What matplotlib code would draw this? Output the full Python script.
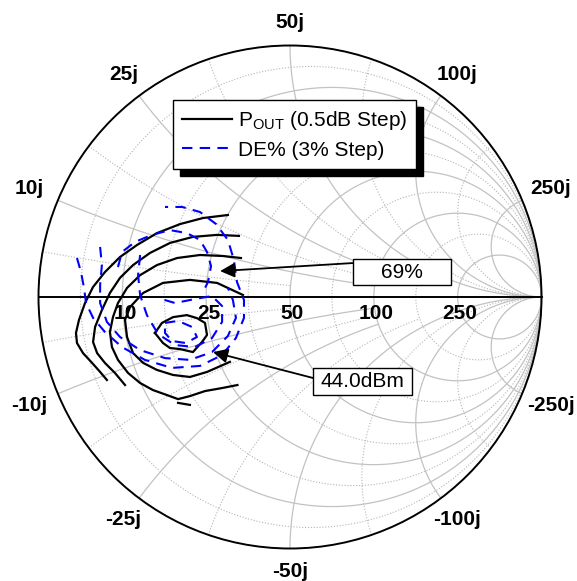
import numpy as np
import matplotlib.pyplot as plt
from matplotlib.patches import Circle, Rectangle

# Smith chart grid values (normalised to Z0 = 50 ohm)
MAIN_VALUES = [0.2, 0.5, 1.0, 2.0, 5.0]
MAIN_X_STOP = [2.0, 2.0, np.inf, np.inf, np.inf]      # resistance where x arcs stop
SUB_VALUES = [1 / 11, 1 / 3, 1 / 1.4, 1.4, 3.0]
SUB_X_STOP = [1.0, 2.0, 3.0, np.inf, np.inf]
R_LABELS = ['10', '25', '50', '100', '250']
X_LABELS = ['10j', '25j', '50j', '100j', '250j']

# Pout contours (reflection coefficient, real / imag), 0.5 dB step
pout_1_re = [-0.247, -0.346, -0.437, -0.529, -0.608, -0.676, -0.736, -0.783, -0.815,
             -0.839, -0.851, -0.847, -0.823, -0.787, -0.755, -0.728]
pout_1_im = [0.326, 0.314, 0.290, 0.254, 0.207, 0.159, 0.099, 0.040, -0.024,
             -0.091, -0.143, -0.183, -0.223, -0.262, -0.298, -0.330]
pout_2_re = [-0.203, -0.290, -0.386, -0.477, -0.557, -0.624, -0.676, -0.716, -0.748,
             -0.775, -0.783, -0.767, -0.736, -0.696, -0.656]
pout_2_im = [0.243, 0.247, 0.239, 0.215, 0.175, 0.127, 0.076, 0.016, -0.052,
             -0.119, -0.179, -0.223, -0.262, -0.302, -0.350]
pout_3_re = [-0.195, -0.266, -0.358, -0.449, -0.529, -0.596, -0.648, -0.684, -0.704,
             -0.716, -0.708, -0.684, -0.644, -0.596, -0.545, -0.489, -0.445, -0.398,
             -0.338, -0.270, -0.209]
pout_3_im = [0.155, 0.163, 0.167, 0.155, 0.127, 0.087, 0.036, -0.024, -0.080,
             -0.139, -0.199, -0.250, -0.302, -0.342, -0.370, -0.390, -0.406, -0.394,
             -0.374, -0.362, -0.350]
pout_3b_re = [-0.445, -0.398]
pout_3b_im = [-0.421, -0.429]
pout_4_re = [-0.187, -0.290, -0.398, -0.505, -0.584, -0.636, -0.656, -0.648, -0.624,
             -0.584, -0.529, -0.465, -0.398, -0.330, -0.239]
pout_4_im = [0.008, 0.056, 0.068, 0.056, 0.016, -0.040, -0.091, -0.159, -0.223,
             -0.262, -0.290, -0.310, -0.318, -0.298, -0.258]
pout_5_re = [-0.537, -0.509, -0.465, -0.410, -0.370, -0.338, -0.330, -0.350, -0.386,
             -0.437, -0.477, -0.505, -0.537]
pout_5_im = [-0.143, -0.103, -0.080, -0.072, -0.084, -0.103, -0.151, -0.179, -0.219,
             -0.207, -0.203, -0.183, -0.143]

# Drain efficiency contours, 3 % step
de_1_re = [-0.847, -0.831, -0.819, -0.811, -0.783, -0.736, -0.668, -0.577, -0.469,
           -0.358, -0.270, -0.215, -0.183, -0.183, -0.211, -0.223, -0.247, -0.294,
           -0.358, -0.429, -0.497]
de_1_im = [0.155, 0.099, 0.036, -0.024, -0.083, -0.139, -0.199, -0.250, -0.282,
           -0.274, -0.231, -0.163, -0.083, -0.012, 0.060, 0.147, 0.227, 0.290,
           0.338, 0.358, 0.358]
de_2_re = [-0.755, -0.748, -0.755, -0.755, -0.728, -0.676, -0.596, -0.497, -0.398,
           -0.310, -0.247, -0.215, -0.227, -0.247]
de_2_im = [0.199, 0.127, 0.048, -0.024, -0.099, -0.159, -0.211, -0.243, -0.250,
           -0.219, -0.155, -0.083, -0.012, 0.036]
de_3_re = [-0.684, -0.668, -0.616, -0.549, -0.477, -0.410, -0.358, -0.330, -0.314,
           -0.326, -0.346]
de_3_im = [0.119, 0.179, 0.219, 0.247, 0.266, 0.254, 0.227, 0.179, 0.123,
           0.060, 0.020]
de_4_re = [-0.596, -0.604, -0.596, -0.569, -0.525, -0.457, -0.378, -0.310, -0.270,
           -0.270, -0.310, -0.378, -0.457, -0.525]
de_4_im = [0.167, 0.087, 0.008, -0.072, -0.147, -0.191, -0.199, -0.163, -0.099,
           -0.036, 0.004, -0.008, -0.024, -0.004]
de_5_re = [-0.497, -0.445, -0.390, -0.370, -0.414, -0.469, -0.497, -0.497]
de_5_im = [-0.103, -0.095, -0.119, -0.159, -0.183, -0.175, -0.143, -0.103]

pout_curves = [(pout_1_re, pout_1_im), (pout_2_re, pout_2_im), (pout_3_re, pout_3_im),
               (pout_3b_re, pout_3b_im), (pout_4_re, pout_4_im), (pout_5_re, pout_5_im)]
de_curves = [(de_1_re, de_1_im), (de_2_re, de_2_im), (de_3_re, de_3_im),
             (de_4_re, de_4_im), (de_5_re, de_5_im)]

plt.rcParams['font.family'] = ['Liberation Sans', 'DejaVu Sans']

fig = plt.figure(figsize=(5.77, 5.81), dpi=100)
ax = fig.add_axes([0, 0, 1, 1])
ax.set_xlim(-290 / 251.5, 287 / 251.5)
ax.set_ylim(-284 / 251.5, 297 / 251.5)
ax.axis('off')


def gamma(z):
    return (z - 1) / (z + 1)


def grid_lines(values, stops, ls, lw, col):
    t = np.linspace(-np.pi / 2 + 1e-4, np.pi / 2 - 1e-4, 1500)
    for v, stop in zip(values, stops):
        # constant resistance circle
        g = gamma(v + 1j * np.tan(t))
        ax.plot(g.real, g.imag, ls=ls, lw=lw, color=col, zorder=1)
        # constant reactance arcs, cut at resistance "stop"
        rmax = 1e4 if np.isinf(stop) else stop
        r = np.concatenate([[0], np.geomspace(1e-3, rmax, 1500)])
        for s in (1, -1):
            g = gamma(r + 1j * s * v)
            ax.plot(g.real, g.imag, ls=ls, lw=lw, color=col, zorder=1)


grid_lines(SUB_VALUES, SUB_X_STOP, (0, (1, 1.6)), 0.8, '#b5b5b5')
grid_lines(MAIN_VALUES, MAIN_X_STOP, '-', 0.9, '#c2c2c2')

ax.add_patch(Circle((0, 0), 1, fill=False, ec='black', lw=1.4, zorder=3))
ax.plot([-1, 1], [0, 0], color='black', lw=1.4, zorder=3)

# labels
for v, lab in zip(MAIN_VALUES, R_LABELS):
    g = (v - 1) / (v + 1)
    ax.text(g + 0.01, -0.066, lab, ha='center', va='center', fontsize=15,
            fontweight='bold', zorder=6)
for v, lab in zip(MAIN_VALUES, X_LABELS):
    for s in (1, -1):
        th = np.pi - 2 * np.arctan(v)
        rr = 1.09 + 0.04 * np.cos(th) ** 2
        txt = lab if s > 0 else '-' + lab
        ax.text(rr * np.cos(th), s * rr * np.sin(th), txt, ha='center', va='center',
                fontsize=15, fontweight='bold')

# contours
for i, (re, im) in enumerate(pout_curves):
    ax.plot(re, im, color='black', lw=1.6, zorder=4,
            label=r'P$_{\mathregular{OUT}}$ (0.5dB Step)' if i == 0 else None)
for i, (re, im) in enumerate(de_curves):
    ax.plot(re, im, color='blue', lw=1.5, ls=(0, (5, 3.5)), zorder=4,
            label='DE% (3% Step)' if i == 0 else None)

leg = ax.legend(loc='upper left', bbox_to_anchor=(173 / 577, 1 - 100 / 581),
                bbox_transform=fig.transFigure, fontsize=15, frameon=True,
                fancybox=False, borderaxespad=0, handlelength=2.4, handletextpad=0.25,
                borderpad=0.45, labelspacing=0.4,
                shadow={'ox': 5, 'oy': -5, 'facecolor': 'black', 'edgecolor': 'black',
                        'alpha': 1})
leg.get_frame().set_edgecolor('black')
leg.get_frame().set_linewidth(1.0)
leg.set_zorder(10)


# annotation boxes
def callout(text, cx, cy, w, h, start, tip):
    ax.add_patch(Rectangle((cx - w / 2, cy - h / 2), w, h, fc='white', ec='black',
                           lw=1.0, zorder=7))
    ax.text(cx, cy, text, ha='center', va='center', fontsize=15, zorder=8)
    ax.annotate('', xy=tip, xytext=start, zorder=7,
                arrowprops=dict(arrowstyle='-|>', color='black', lw=1.3,
                                mutation_scale=22, shrinkA=0, shrinkB=0))


callout('69%', 0.445, 0.099, 0.39, 0.103, (0.25, 0.135), (-0.278, 0.103))
callout('44.0dBm', 0.288, -0.336, 0.393, 0.107, (0.0915, -0.322), (-0.306, -0.219))

fig.savefig('out.png', dpi=100)
